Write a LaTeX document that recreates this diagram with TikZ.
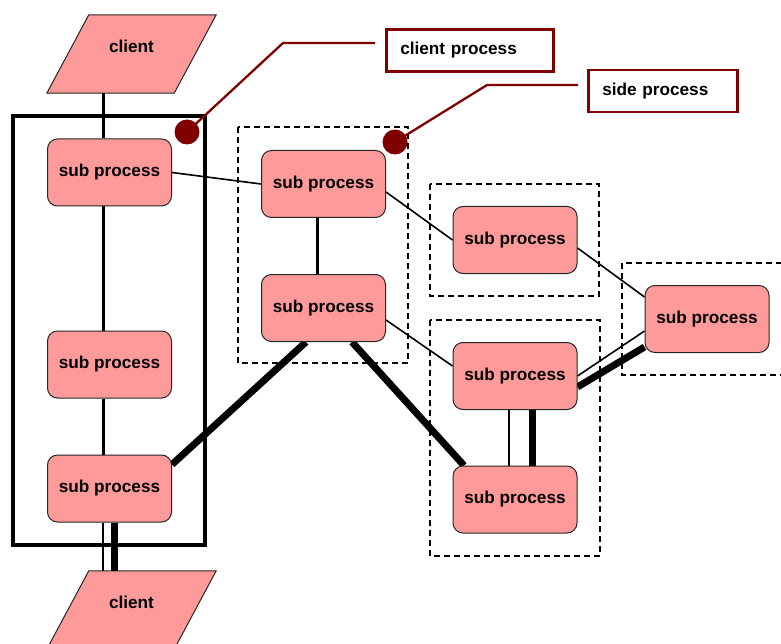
\documentclass[tikz,border=0pt]{standalone}
\usepackage{fontspec}
\setmainfont{Liberation Sans}
\usetikzlibrary{backgrounds}
\definecolor{boxpink}{HTML}{FF9A9A}
\definecolor{calloutred}{HTML}{800000}

\begin{document}
\begin{tikzpicture}[x=1pt,y=-1pt,
  txt/.style={font=\fontsize{17.2}{20}\selectfont\bfseries},
  subproc/.style={txt, draw=black!85, line width=1pt, fill=boxpink,
    rounded corners=10pt, minimum width=124pt, minimum height=67pt, inner sep=0pt},
  iobox/.style={minimum width=169pt, minimum height=78pt, inner sep=0pt,
    label={[txt,yshift=8pt]center:client}},
  iofill/.style={fill=boxpink, draw=black!85, line width=1pt},
  groupbox/.style={draw, dash pattern=on 6pt off 4pt, line width=1.6pt},
  mainframe/.style={draw, line width=4pt},
  thin/.style={draw, line width=1.6pt},
  medium/.style={draw, line width=3pt},
  heavy/.style={draw, line width=7pt},
  calloutbox/.style={txt, draw=calloutred, line width=2.5pt, fill=white,
    minimum height=42pt, inner xsep=14pt, align=left, anchor=west},
  calloutdot/.style={circle, fill=calloutred, minimum size=25pt, inner sep=0pt},
  leader/.style={draw=calloutred, line width=2.3pt}
]
\useasboundingbox (0,0) rectangle (781,644);

% vertical lanes for the client column connectors
\coordinate (lane) at (103,0);
\coordinate (lanetwo) at (114,0);

% client terminals (parallelograms filled on the background layer)
\node[iobox] (c1) at (131.5,54) {};
\node[iobox] (c2) at (131.5,610) {};

% client process column
\node[subproc] (sp1) at (109.5,172.5) {sub process};
\node[subproc] (sp2) at (109.5,364.5) {sub process};
\node[subproc] (sp3) at (109.5,488.5) {sub process};

% side processes
\node[subproc] (sp4) at (323.5,184) {sub process};
\node[subproc] (sp5) at (323.5,308) {sub process};
\node[subproc] (sp6) at (515,240) {sub process};
\node[subproc] (sp7) at (515,376) {sub process};
\node[subproc] (sp8) at (515,499.5) {sub process};
\node[subproc] (sp9) at (707,319) {sub process};

% group frames
\draw[mainframe] (13,116) rectangle (205,545);
\draw[groupbox] (238,127) rectangle (408,363);
\draw[groupbox] (430,184) rectangle (599,296);
\draw[groupbox] (430,320) rectangle (600,556);
\draw[groupbox] (622,263) rectangle (795,375);

% callouts
\node[calloutbox, text width=139pt] (cp) at (385,50.5) {client process};
\node[calloutbox, text width=121pt] (sidep) at (587,91) {side process};
\node[calloutdot] (d1) at (187,132) {};
\node[calloutdot] (d2) at (395,142) {};
\draw[leader] (d1.center) -- (283,43) -- ([xshift=-10pt,yshift=7.5pt]cp.west);
\draw[leader] (d2.center) -- (487,85) -- ([xshift=-9pt,yshift=6pt]sidep.west);

\begin{scope}[on background layer]
  \path[iofill] (c1.south west) -- ([xshift=-42pt]c1.south east)
    -- (c1.north east) -- ([xshift=42pt]c1.north west) -- cycle;
  \path[iofill] (c2.south west) -- ([xshift=-42pt]c2.south east)
    -- (c2.north east) -- ([xshift=42pt]c2.north west) -- cycle;

  % client column
  \path[medium] (c1.south -| lane) -- (sp1.north -| lane);
  \path[medium] (sp1.south -| lane) -- (sp2.north -| lane);
  \path[medium] (sp2.south -| lane) -- (sp3.north -| lane);
  \path[thin] (sp3.south -| lane) -- (c2.north -| lane);
  \path[heavy] (sp3.south -| lanetwo) -- (c2.north -| lanetwo);

  % links between processes
  \path[thin] (sp1.east) -- (sp4.west);
  \path[medium] ([xshift=-6pt]sp4.south) -- ([xshift=-6pt]sp5.north);
  \path[thin] ([yshift=-8pt]sp4.east) -- (sp6.west);
  \path[thin] ([yshift=-12pt]sp5.east) -- ([yshift=10pt]sp7.west);
  \path[thin] ([yshift=-8pt]sp6.east) -- ([yshift=22pt]sp9.west);
  \path[thin] (sp7.east) -- ([yshift=-12pt]sp9.west);
  \path[heavy] ([yshift=-11pt]sp7.east) -- ([yshift=-28pt]sp9.west);
  \path[heavy] ([xshift=-17.5pt]sp5.south) -- ([yshift=-10pt]sp3.north east);
  \path[heavy] ([xshift=28.5pt]sp5.south) -- ([xshift=-51pt]sp8.north);
  \path[thin] ([xshift=-6pt]sp7.south) -- ([xshift=-6pt]sp8.north);
  \path[heavy] ([xshift=17pt]sp7.south) -- ([xshift=17pt]sp8.north);
\end{scope}
\end{tikzpicture}
\end{document}
